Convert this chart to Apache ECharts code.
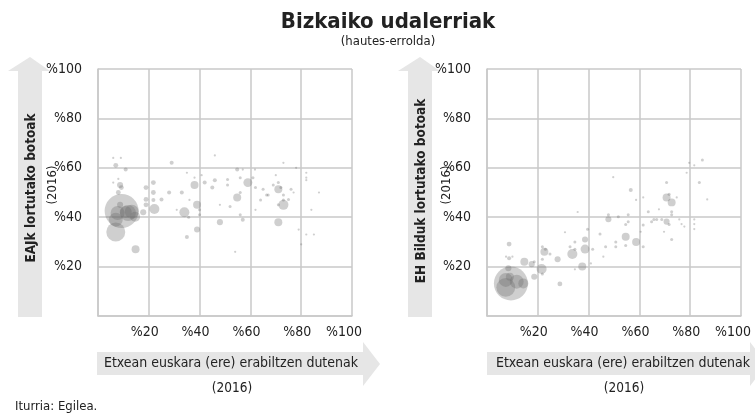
<!DOCTYPE html>
<html>
<head>
<meta charset="utf-8">
<script src="https://cdn.jsdelivr.net/npm/echarts@6/dist/echarts.min.js"></script>
<style>
  html, body { margin: 0; padding: 0; background: #fff; }
  #main { width: 755px; height: 414px; }
</style>
</head>
<body>
<div id="main"></div>
<script>
// [etxean euskara %, boto %, biztanleak (milakoak)]
var eajPoints = [
  [9.3, 42.5, 345], [7, 34, 107], [7, 39, 58], [11.8, 41.7, 76], [13.3, 42.2, 58],
  [14.6, 40.2, 30], [10.9, 42.1, 43], [7.7, 41.7, 58], [14.8, 27, 19], [17.8, 42, 11],
  [8.7, 45, 11], [8.7, 53, 11], [9.2, 52, 7], [8, 50, 7], [7, 61, 7],
  [6, 64, 1.2], [9, 64, 1.2], [10.9, 59.3, 4.8], [6, 54, 1.2], [8, 55.5, 1.2],
  [18.9, 52, 7], [21.8, 54, 7], [21.8, 50, 7], [18.9, 47.2, 7], [18.9, 45, 7],
  [22.2, 43.3, 30], [21.8, 47, 4.8], [25, 47.2, 4.8], [28, 50, 4.8], [29, 62, 4.8],
  [33, 50, 4.8], [34, 42, 30], [35, 58, 1.2], [38, 53, 19], [36, 47, 1.2],
  [39, 45, 19], [40, 43, 2.7], [40, 41, 2.7], [35.7, 40, 2.7], [39, 35, 11],
  [35, 32, 4.8], [38, 56, 1.2], [40.8, 57, 1.2], [42, 54, 4.8], [45, 52, 4.8],
  [46, 55, 4.8], [46, 65, 1.2], [48, 45, 1.2], [48, 38, 11], [31, 43, 1.2],
  [54.8, 59.3, 4.8], [57, 59.3, 1.2], [61.8, 59.3, 1.2], [51, 55.3, 2.7], [51, 53, 2.7],
  [56, 56, 2.7], [59, 54, 24], [61, 56, 2.7], [62, 52, 2.7], [54.8, 48, 19],
  [56, 50, 2.7], [52, 44.3, 2.7], [56, 41, 2.7], [57, 39, 4.8], [54, 26, 1.2],
  [62, 43, 1.2], [64, 47, 2.7], [65, 51.3, 2.7], [66.4, 49, 2.7], [67, 49, 2.7],
  [69, 53, 2.7], [70, 57, 1.2], [71, 54, 2.7], [71, 51.3, 19], [72, 52, 2.7],
  [73, 49, 2.7], [73, 47, 2.7], [73, 45, 30], [71, 45, 2.7], [75, 47.2, 2.7],
  [76, 51.3, 2.7], [77, 50, 1.2], [73, 62, 1.2], [78, 60, 1.2], [82, 58, 1.2],
  [82, 56, 1.2], [82, 55, 1.2], [87, 50, 1.2], [84, 43, 1.2], [79, 35, 1.2],
  [82, 33, 1.2], [85, 33, 1.2], [80, 29, 1.2], [71, 38, 19]
];

var bilduPoints = [
  [9.4, 13.2, 345], [7.4, 11.6, 107], [7.4, 14.6, 58], [11.7, 13.9, 58], [14.3, 13.2, 30],
  [9, 15.9, 19], [8.4, 19.3, 11], [8.7, 23.4, 4.8], [7.5, 24, 1.2], [10, 24, 1.2],
  [8.7, 29.1, 7], [14.7, 22, 19], [17.6, 21, 11], [18.6, 22, 2.7], [18.6, 15.9, 11],
  [21.5, 19, 30], [21.8, 28, 2.7], [22.6, 26, 19], [21.8, 23, 2.7], [21.8, 17, 2.7],
  [23, 27, 2.7], [24.8, 25.1, 2.7], [27.8, 23, 11], [28.7, 13, 7], [30.7, 33.9, 1.2],
  [33.6, 25.1, 30], [32.7, 28, 2.7], [34.6, 30, 2.7], [34.6, 27, 2.7], [34.6, 18.9, 1.2],
  [37.5, 20, 19], [38.6, 27.1, 24], [38.6, 31, 11], [39.6, 35.1, 2.7], [40.9, 21.3, 1.2],
  [41.6, 27, 2.7], [35.7, 42.1, 1.2], [44.5, 33.2, 2.7], [45.8, 24, 1.2], [46.7, 28, 2.7],
  [47.8, 39.2, 11], [47.8, 41, 2.7], [49.7, 56.2, 1.2], [51.7, 40.2, 2.7], [50.7, 30, 2.7],
  [50.7, 28, 2.7], [54.6, 32.1, 19], [54.6, 37, 2.7], [55.6, 38.2, 2.7], [55.6, 41, 2.7],
  [54.6, 28.5, 2.7], [56.6, 51, 4.8], [58.7, 30, 19], [58.7, 47, 1.2], [60.5, 34.1, 1.2],
  [61.5, 28, 2.7], [61.5, 36.8, 2.7], [61.5, 48, 1.2], [63.5, 42.2, 2.7], [64.8, 38.2, 2.7],
  [65.7, 39.1, 2.7], [66.8, 39.1, 2.7], [67.7, 43.2, 1.2], [68.8, 39.1, 2.7], [69.7, 34.1, 1.2],
  [70.7, 38.2, 11], [70.7, 48, 19], [70.7, 54, 2.7], [71.7, 49.3, 2.7], [72.7, 46, 19],
  [72.7, 42.2, 2.7], [72.7, 41, 2.7], [72.7, 31, 2.7], [71.7, 37, 2.7], [74.7, 48, 1.2],
  [75.7, 39.1, 1.2], [76.6, 37.2, 1.2], [77.7, 36.2, 1.2], [78.6, 58, 1.2], [79.6, 62, 1.2],
  [81.6, 61, 1.2], [84.8, 63.2, 2.7], [83.6, 54, 2.7], [81.6, 39.1, 1.2], [81.6, 37.2, 1.2],
  [81.6, 35.2, 1.2], [86.7, 47.2, 1.2]
];

var titleText = 'Bizkaiko udalerriak';
var subText = '(hautes-errolda)';
var xName = 'Etxean euskara (ere) erabiltzen dutenak';
var yNames = ['EAJk lortutako botoak', 'EH Bilduk lortutako botoak'];
var yearText = '(2016)';
var sourceText = 'Iturria: Egilea.';

var FONT = "'DejaVu Sans Condensed', sans-serif";
var gridColor = '#c9c9c9';
var arrowColor = '#e6e6e6';

function pctLabel(v) {
  return v === 0 ? '' : '%' + v;
}

function makeAxis(idx, isX) {
  return {
    type: 'value',
    gridIndex: idx,
    min: 0,
    max: 100,
    interval: 20,
    axisLine: { show: true, lineStyle: { color: gridColor, width: 1.5 } },
    axisTick: { show: false },
    splitLine: { show: true, lineStyle: { color: gridColor, width: 1.5 } },
    axisLabel: isX ? {
      formatter: pctLabel,
      fontFamily: FONT, fontSize: 14, color: '#222',
      align: 'right', padding: [0, -10, 0, 0], margin: 9
    } : {
      formatter: pctLabel,
      fontFamily: FONT, fontSize: 14, color: '#222', margin: 16
    }
  };
}

function sizeOf(val) {
  return Math.max(2.2, 1.83 * Math.sqrt(val[2]));
}

function bubbles(idx, data) {
  return {
    type: 'scatter',
    xAxisIndex: idx,
    yAxisIndex: idx,
    data: data,
    symbolSize: sizeOf,
    itemStyle: { color: 'rgba(105,105,105,0.4)' },
    silent: true
  };
}

function upArrow(cx) {
  return {
    type: 'polygon', z: 0,
    shape: { points: [[cx - 12, 317], [cx - 12, 71], [cx - 22, 71], [cx, 57], [cx + 20, 71], [cx + 12, 71], [cx + 12, 317]] },
    style: { fill: arrowColor }
  };
}

function rightArrow(x0, x1) {
  return {
    type: 'polygon', z: 0,
    shape: { points: [[x0, 352], [x1, 352], [x1, 342], [x1 + 17, 364], [x1, 386], [x1, 375], [x0, 375]] },
    style: { fill: arrowColor }
  };
}

function txt(x, y, text, size, weight, rot) {
  return {
    type: 'text', z: 10, x: x, y: y, rotation: rot || 0,
    style: {
      text: text, fill: '#222', font: (weight || 'normal') + ' ' + size + 'px ' + FONT,
      align: 'center', verticalAlign: 'middle'
    }
  };
}

var chart = echarts.init(document.getElementById('main'));
chart.setOption({
  backgroundColor: '#fff',
  animation: false,
  grid: [
    { left: 98, top: 69, width: 254, height: 247 },
    { left: 487, top: 69, width: 254, height: 247 }
  ],
  xAxis: [makeAxis(0, true), makeAxis(1, true)],
  yAxis: [makeAxis(0, false), makeAxis(1, false)],
  series: [bubbles(0, eajPoints), bubbles(1, bilduPoints)],
  graphic: [
    upArrow(30),
    upArrow(420),
    rightArrow(97, 363),
    rightArrow(487, 750),
    txt(388, 22, titleText, 22, 'bold'),
    txt(388, 42, subText, 13),
    txt(31, 188, yNames[0], 13.5, 'bold', Math.PI / 2),
    txt(53, 185, yearText, 13, 'normal', Math.PI / 2),
    txt(421, 191, yNames[1], 13.5, 'bold', Math.PI / 2),
    txt(447, 185, yearText, 13, 'normal', Math.PI / 2),
    txt(231, 363, xName, 14),
    txt(623, 363, xName, 14),
    txt(232, 388, yearText, 13.5),
    txt(624, 388, yearText, 13.5),
    {
      type: 'text', z: 10, x: 15, y: 407,
      style: { text: sourceText, fill: '#222', font: '13px ' + FONT, align: 'left', verticalAlign: 'middle' }
    }
  ]
});
</script>
</body>
</html>
